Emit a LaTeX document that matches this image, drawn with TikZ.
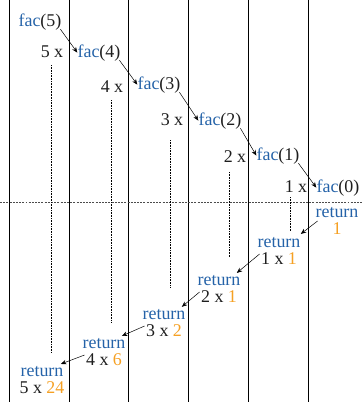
\documentclass[tikz,border=0pt]{standalone}
\usepackage{fontspec}
\setmainfont{Liberation Serif}
\usetikzlibrary{arrows.meta}
\definecolor{facblue}{RGB}{36,98,168}
\definecolor{valorange}{RGB}{245,160,35}
\definecolor{ink}{RGB}{30,30,30}
\begin{document}
\begin{tikzpicture}[x=1bp,y=-1bp,
  txt/.style={font=\fontsize{18}{17.5}\selectfont, inner sep=0pt, outer sep=0pt, text=ink},
  facnode/.style={txt},
  retnode/.style={txt, align=center},
  arr/.style={-{Stealth[length=5.5pt,width=4.5pt]}, line width=0.5pt, shorten >=0.5pt},
  vline/.style={line width=0.8pt},
  hline/.style={line width=0.7pt, gray!60!black, dash pattern=on 2pt off 1.2pt},
  dotl/.style={line width=0.6pt, dash pattern=on 0.8pt off 0.8pt},
]
\useasboundingbox (0,0) rectangle (363,402);
% column lines
\foreach \x in {9,69,128,188,248,308} \draw[vline] (\x,0) -- (\x,402);
\draw[hline] (0,202) -- (363,202);
% calls
\node[facnode] (f5) at (40,22)  {\textcolor{facblue}{fac}(5)};
\node[facnode] (f4) at (99,53)  {\textcolor{facblue}{fac}(4)};
\node[facnode] (f3) at (159,85) {\textcolor{facblue}{fac}(3)};
\node[facnode] (f2) at (220,121){\textcolor{facblue}{fac}(2)};
\node[facnode] (f1) at (278,156){\textcolor{facblue}{fac}(1)};
\node[facnode] (f0) at (338,188){\textcolor{facblue}{fac}(0)};
% multipliers
\node[txt] (m5) at (52,52)  {5 x};
\node[txt] (m4) at (112,87) {4 x};
\node[txt] (m3) at (172,120){3 x};
\node[txt] (m2) at (235,157){2 x};
\node[txt] (m1) at (296,187){1 x};
% returns
\node[retnode] (r0) at (337,221) {\textcolor{facblue}{return}\\\textcolor{valorange}{1}};
\node[retnode] (r1) at (279,251) {\textcolor{facblue}{return}\\1 x \textcolor{valorange}{1}};
\node[retnode] (r2) at (219,289) {\textcolor{facblue}{return}\\2 x \textcolor{valorange}{1}};
\node[retnode] (r3) at (164,323) {\textcolor{facblue}{return}\\3 x \textcolor{valorange}{2}};
\node[retnode] (r4) at (104,352) {\textcolor{facblue}{return}\\4 x \textcolor{valorange}{6}};
\node[retnode] (r5) at (42,380)  {\textcolor{facblue}{return}\\5 x \textcolor{valorange}{24}};
% call arrows
\draw[arr] ([xshift=-1pt,yshift=1pt]f5.south east) -- (f4.west);
\draw[arr] ([xshift=-1pt,yshift=1pt]f4.south east) -- (f3.west);
\draw[arr] ([xshift=-1pt,yshift=1pt]f3.south east) -- (f2.west);
\draw[arr] ([xshift=-1pt,yshift=1pt]f2.south east) -- (f1.west);
\draw[arr] ([xshift=-1pt,yshift=1pt]f1.south east) -- (f0.west);
% return arrows
\draw[arr] ([xshift=2pt]r0.west) -- ([yshift=3pt]r1.north east);
\draw[arr] ([xshift=2pt,yshift=-3pt]r1.west) -- ([xshift=-4pt,yshift=2pt]r2.north east);
\draw[arr] ([xshift=2pt,yshift=-3pt]r2.west) -- ([xshift=-4pt,yshift=2pt]r3.north east);
\draw[arr] ([xshift=2pt,yshift=-3pt]r3.west) -- ([xshift=-4pt,yshift=2pt]r4.north east);
\draw[arr] ([xshift=2pt,yshift=-3pt]r4.west) -- ([xshift=-4pt,yshift=2pt]r5.north east);
% waiting lines
\coordinate (a5) at (51,65);  \coordinate (b5) at (51,352);
\coordinate (a4) at (111,100);\coordinate (b4) at (111,323);
\coordinate (a3) at (170,140);\coordinate (b3) at (170,288);
\coordinate (a2) at (229,172);\coordinate (b2) at (229,258);
\coordinate (a1) at (290,197);\coordinate (b1) at (290,232);
\foreach \i in {1,...,5} \draw[dotl] (a\i) -- (b\i);
\end{tikzpicture}
\end{document}
